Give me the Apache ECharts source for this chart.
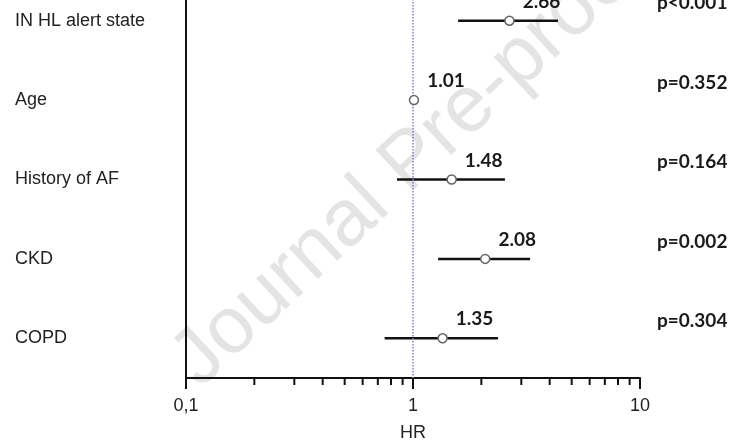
<!DOCTYPE html>
<html>
<head>
<meta charset="utf-8">
<script src="https://cdn.jsdelivr.net/npm/echarts@6/dist/echarts.min.js"></script>
<style>
  html, body { margin: 0; padding: 0; background: #fff; }
  #chart { width: 733px; height: 443px; }
</style>
</head>
<body>
<div id="chart"></div>
<script>
// Forest plot: hazard ratios with 95% CI on a log axis.
const factors = ['IN HL alert state', 'Age', 'History of AF', 'CKD', 'COPD'];
const hazardRatios = [2.66, 1.01, 1.48, 2.08, 1.35];
const ciLow = [1.58, 1.0, 0.85, 1.29, 0.75];
const ciHigh = [4.35, 1.02, 2.54, 3.28, 2.37];
const pValues = ['p<0.001', 'p=0.352', 'p=0.164', 'p=0.002', 'p=0.304'];
const minorTickValues = [0.2, 0.3, 0.4, 0.5, 0.6, 0.7, 0.8, 0.9, 2, 3, 4, 5, 6, 7, 8, 9];

const chart = echarts.init(document.getElementById('chart'), null, { renderer: 'canvas' });

const boldFont = { fontFamily: 'Lato', fontWeight: 'bold', fontSize: 19, color: '#1a1a1a' };
const plainFont = { fontFamily: 'Liberation Sans', fontSize: 18, color: '#222' };

chart.setOption({
  animation: false,
  backgroundColor: '#fff',
  // the plot is cropped at the top, so the grid starts above the canvas
  grid: { left: 186, right: 93, top: -19, bottom: 65, outerBoundsMode: 'none' },
  // faint "Journal Pre-proof" watermark behind the plot
  graphic: [{
    type: 'text',
    x: 411,
    y: 162,
    rotation: 43 * Math.PI / 180,
    z: -10,
    silent: true,
    style: {
      text: 'Journal Pre-proof',
      font: '80px "Liberation Sans"',
      fill: '#e4e4e4',
      align: 'center',
      verticalAlign: 'middle',
    },
  }],
  xAxis: {
    type: 'log',
    logBase: 10,
    min: 0.1,
    max: 10,
    name: 'HR',
    nameLocation: 'middle',
    nameGap: 46,
    nameTextStyle: plainFont,
    axisLine: { show: true, lineStyle: { color: '#111', width: 2 } },
    axisTick: { show: true, length: 11, lineStyle: { color: '#111', width: 2 } },
    axisLabel: Object.assign({
      margin: 19,
      formatter: (v) => String(v).replace('.', ','),
    }, plainFont),
    splitLine: { show: false },
  },
  yAxis: [
    {
      type: 'category',
      data: factors,
      inverse: true,
      axisLine: { show: true, lineStyle: { color: '#111', width: 2 } },
      axisTick: { show: false },
      axisLabel: Object.assign({ align: 'left', margin: 171 }, plainFont),
      splitLine: { show: false },
    },
    {
      type: 'category',
      data: pValues,
      inverse: true,
      position: 'right',
      axisLine: { show: false },
      axisTick: { show: false },
      axisLabel: Object.assign({
        align: 'left',
        margin: 17,
        verticalAlign: 'bottom',
        padding: [0, 0, 8, 0],
      }, boldFont),
    },
  ],
  series: [
    {
      // confidence-interval whiskers
      type: 'custom',
      clip: false,
      z: 3,
      data: factors.map((_, i) => [ciLow[i], ciHigh[i], i]),
      encode: { x: [0, 1], y: 2 },
      renderItem: (params, api) => {
        const a = api.coord([api.value(0), api.value(2)]);
        const b = api.coord([api.value(1), api.value(2)]);
        return {
          type: 'line',
          shape: { x1: a[0], y1: a[1], x2: b[0], y2: b[1] },
          style: { stroke: '#111', lineWidth: 2.5 },
        };
      },
    },
    {
      // log-scale minor ticks under the x axis
      type: 'custom',
      clip: false,
      silent: true,
      z: 3,
      data: minorTickValues.map((v) => [v, 0]),
      encode: { x: 0, y: 1 },
      renderItem: (params, api) => {
        const x = api.coord([api.value(0), 0])[0];
        const bottom = params.coordSys.y + params.coordSys.height;
        return {
          type: 'line',
          shape: { x1: x, y1: bottom, x2: x, y2: bottom + 7 },
          style: { stroke: '#111', lineWidth: 2 },
        };
      },
    },
    {
      type: 'scatter',
      z: 5,
      symbol: 'circle',
      symbolSize: 9,
      data: hazardRatios.map((hr, i) => [hr, i]),
      itemStyle: { color: '#fff', borderColor: '#666', borderWidth: 1.5, opacity: 1 },
      label: Object.assign({
        show: true,
        position: 'inside',
        offset: [32, -19],
        formatter: (p) => p.value[0].toFixed(2),
      }, boldFont),
      markLine: {
        silent: true,
        symbol: 'none',
        label: { show: false },
        lineStyle: { color: '#7c7cd4', width: 1.5, type: 'dotted' },
        data: [{ xAxis: 1 }],
      },
    },
  ],
});
</script>
</body>
</html>
